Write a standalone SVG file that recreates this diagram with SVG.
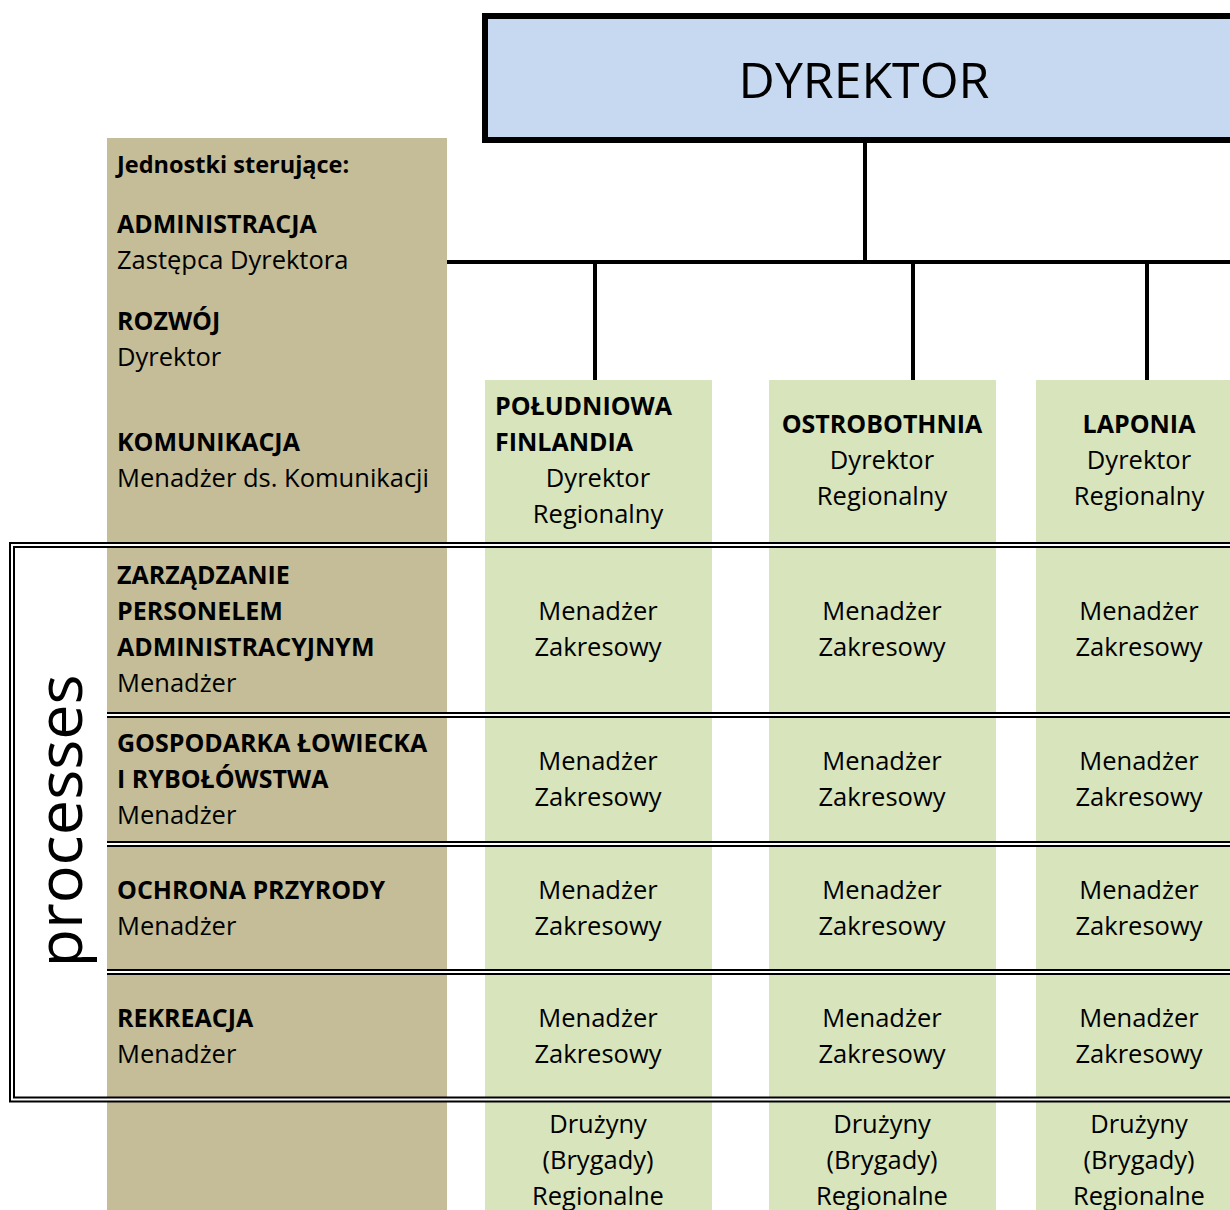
<svg xmlns="http://www.w3.org/2000/svg" width="1230" height="1210" viewBox="0 0 1230 1210">
<style>
text{font-family:"Open Sans","Noto Sans",sans-serif;fill:#000;font-size:25.5px}
.b{font-weight:bold;font-size:25px}
.c{text-anchor:middle}
.tan{fill:#C4BD97}
.grn{fill:#D7E4BC}
.ln{stroke:#000;stroke-width:4;fill:none}
.dbo{stroke:#000;stroke-width:6;fill:none}
.dbi{stroke:#fff;stroke-width:2;fill:none}
</style>
<rect width="1230" height="1210" fill="#fff"/>
<g id="left-column">
<rect class="tan" x="107" y="138" width="340" height="1072"/>
<text class="b" x="117" y="173" style="font-size:23.5px">Jednostki sterujące:</text>
<text class="b" x="117" y="233">ADMINISTRACJA</text>
<text x="117" y="269">Zastępca Dyrektora</text>
<text class="b" x="117" y="330">ROZWÓJ</text>
<text x="117" y="366">Dyrektor</text>
<text class="b" x="117" y="451">KOMUNIKACJA</text>
<text x="117" y="487">Menadżer ds. Komunikacji</text>
<text class="b" x="117" y="584">ZARZĄDZANIE</text>
<text class="b" x="117" y="620">PERSONELEM</text>
<text class="b" x="117" y="656">ADMINISTRACYJNYM</text>
<text x="117" y="692">Menadżer</text>
<text class="b" x="117" y="752">GOSPODARKA ŁOWIECKA</text>
<text class="b" x="117" y="788">I RYBOŁÓWSTWA</text>
<text x="117" y="824">Menadżer</text>
<text class="b" x="117" y="899">OCHRONA PRZYRODY</text>
<text x="117" y="935">Menadżer</text>
<text class="b" x="117" y="1027">REKREACJA</text>
<text x="117" y="1063">Menadżer</text>
</g>
<g id="col-poludniowa">
<rect class="grn" x="485" y="380" width="227" height="830"/>
<text class="b" x="495" y="415">POŁUDNIOWA</text>
<text class="b" x="495" y="451">FINLANDIA</text>
<text class="c" x="598" y="487">Dyrektor</text>
<text class="c" x="598" y="523">Regionalny</text>
<text class="c" x="598" y="620">Menadżer</text><text class="c" x="598" y="656">Zakresowy</text>
<text class="c" x="598" y="770">Menadżer</text><text class="c" x="598" y="806">Zakresowy</text>
<text class="c" x="598" y="899">Menadżer</text><text class="c" x="598" y="935">Zakresowy</text>
<text class="c" x="598" y="1027">Menadżer</text><text class="c" x="598" y="1063">Zakresowy</text>
<text class="c" x="598" y="1133">Drużyny</text><text class="c" x="598" y="1169">(Brygady)</text><text class="c" x="598" y="1205">Regionalne</text>
</g>
<g id="col-ostrobothnia">
<rect class="grn" x="769" y="380" width="227" height="830"/>
<text class="b c" x="882" y="433">OSTROBOTHNIA</text>
<text class="c" x="882" y="469">Dyrektor</text>
<text class="c" x="882" y="505">Regionalny</text>
<text class="c" x="882" y="620">Menadżer</text><text class="c" x="882" y="656">Zakresowy</text>
<text class="c" x="882" y="770">Menadżer</text><text class="c" x="882" y="806">Zakresowy</text>
<text class="c" x="882" y="899">Menadżer</text><text class="c" x="882" y="935">Zakresowy</text>
<text class="c" x="882" y="1027">Menadżer</text><text class="c" x="882" y="1063">Zakresowy</text>
<text class="c" x="882" y="1133">Drużyny</text><text class="c" x="882" y="1169">(Brygady)</text><text class="c" x="882" y="1205">Regionalne</text>
</g>
<g id="col-laponia">
<rect class="grn" x="1036" y="380" width="200" height="830"/>
<text class="b c" x="1139" y="433">LAPONIA</text>
<text class="c" x="1139" y="469">Dyrektor</text>
<text class="c" x="1139" y="505">Regionalny</text>
<text class="c" x="1139" y="620">Menadżer</text><text class="c" x="1139" y="656">Zakresowy</text>
<text class="c" x="1139" y="770">Menadżer</text><text class="c" x="1139" y="806">Zakresowy</text>
<text class="c" x="1139" y="899">Menadżer</text><text class="c" x="1139" y="935">Zakresowy</text>
<text class="c" x="1139" y="1027">Menadżer</text><text class="c" x="1139" y="1063">Zakresowy</text>
<text class="c" x="1139" y="1133">Drużyny</text><text class="c" x="1139" y="1169">(Brygady)</text><text class="c" x="1139" y="1205">Regionalne</text>
</g>
<g id="dyrektor">
<rect x="485" y="16" width="760" height="124" fill="#C6D9F0" stroke="#000" stroke-width="6"/>
<text class="c" x="864" y="98" style="font-size:50px">DYREKTOR</text>
</g>
<g id="connectors">
<path class="ln" d="M865 143V262M447 262H1232M595 262V380M913 262V380M1147 262V380"/>
</g>
<g id="processes-frame">
<path class="dbo" d="M1240 545H12V1099.5H1240M107 715H1240M107 844H1240M107 972H1240"/>
<path class="dbi" d="M1240 545H12V1099.5H1240M107 715H1240M107 844H1240M107 972H1240"/>
<text class="c" transform="translate(82,821) rotate(-90)" style="font-size:63px">processes</text>
</g>
</svg>
